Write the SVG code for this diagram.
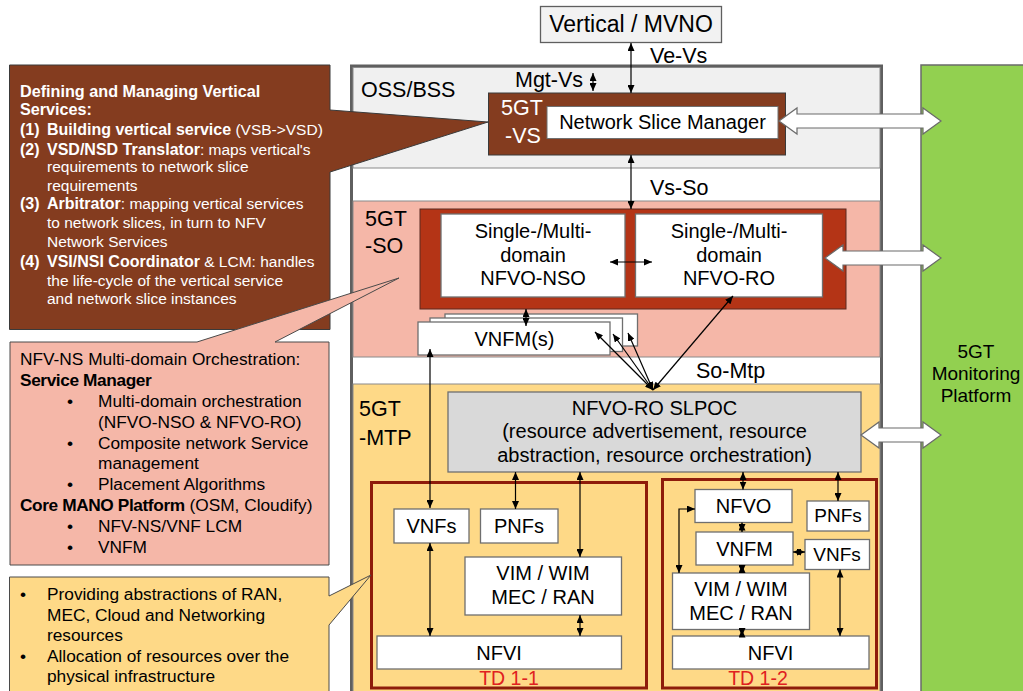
<svg xmlns="http://www.w3.org/2000/svg" width="1023" height="691" viewBox="0 0 1023 691">
<defs>
<marker id="ah" viewBox="0 0 8 7" refX="8" refY="3.5" markerWidth="8" markerHeight="7" markerUnits="userSpaceOnUse" orient="auto-start-reverse"><path d="M0,0 L8,3.5 L0,7 z" fill="#000"/></marker>
<style>
text{font-family:"Liberation Sans",Arial,sans-serif;fill:#000}
.t20{font-size:20px;text-anchor:middle}
.lbl{font-size:21.5px}
.box{fill:#fff;stroke:#6f6f6f;stroke-width:1.3}
.td{fill:none;stroke:#8e1c0b;stroke-width:3}
.tdl{font-size:19.5px;fill:#e02020;text-anchor:middle}
.c{stroke:#000;stroke-width:1.2;fill:none;marker-start:url(#ah);marker-end:url(#ah)}
.ha{fill:#fff;stroke:#6a6a6a;stroke-width:1.2}
.bt{font-size:15.5px;fill:#fff}
.bb{font-weight:bold;font-size:16px}
.pt{font-size:17.3px}
.b{font-weight:bold;letter-spacing:-0.4px}
</style>
</defs>

<!-- containers -->
<g id="frame">
<rect x="351.5" y="66" width="530" height="640" fill="#fff" stroke="#5f5f5f" stroke-width="3"/>
</g>
<g id="oss">
<rect x="353" y="67.5" width="527" height="100.5" fill="#f0f0f0" stroke="#8a8a8a" stroke-width="1"/>
<text class="lbl" x="361" y="97">OSS/BSS</text>
</g>
<g id="so-region">
<rect x="353" y="201" width="527" height="156" fill="#f5b7a8" stroke="#8a8a8a" stroke-width="1"/>
<text class="lbl" x="365" y="226">5GT</text>
<text class="lbl" x="365" y="253">-SO</text>
</g>
<g id="mtp-region">
<rect x="353" y="384" width="527" height="320" fill="#fed987" stroke="#8a8a8a" stroke-width="1"/>
<text class="lbl" x="359" y="416">5GT</text>
<text class="lbl" x="359" y="445">-MTP</text>
</g>
<g id="monitoring">
<rect x="921" y="65" width="110" height="640" fill="#92d050" stroke="#6a6a6a" stroke-width="1.5"/>
<text font-size="19px" text-anchor="middle" x="976" y="358">5GT</text>
<text font-size="19px" text-anchor="middle" x="976" y="380">Monitoring</text>
<text font-size="19px" text-anchor="middle" x="976" y="402">Platform</text>
</g>

<g id="vertical-mvno">
<rect x="540.5" y="6.5" width="181" height="36" fill="#f2f2f2" stroke="#5f5f5f" stroke-width="1.3"/>
<text font-size="23px" text-anchor="middle" x="631" y="32">Vertical / MVNO</text>
</g>

<g id="vs">
<rect x="488.5" y="93" width="297" height="62" fill="#843c1f" stroke="#3a3a3a" stroke-width="1"/>
<text class="lbl" x="501" y="115" style="fill:#fff">5GT</text>
<text class="lbl" x="505" y="143" style="fill:#fff">-VS</text>
</g>
<g id="nsm">
<rect x="547" y="106.5" width="231" height="32" fill="#fff" stroke="#6f6f6f" stroke-width="1"/>
<text class="t20" x="662.5" y="129">Network Slice Manager</text>
</g>

<g id="so">
<rect x="420" y="209" width="426" height="100" fill="#b43416" stroke="#5a2a20" stroke-width="1"/>
</g>
<g id="nfvo-nso">
<rect x="441" y="214" width="184" height="83" class="box"/>
<text class="t20" x="533" y="238">Single-/Multi-</text>
<text class="t20" x="533" y="262">domain</text>
<text class="t20" x="533" y="285">NFVO-NSO</text>
</g>
<g id="nfvo-ro">
<rect x="635.5" y="214" width="187" height="83" class="box"/>
<text class="t20" x="729" y="238">Single-/Multi-</text>
<text class="t20" x="729" y="262">domain</text>
<text class="t20" x="729" y="285">NFVO-RO</text>
</g>
<g id="vnfms">
<rect x="445" y="314" width="192.5" height="32" class="box"/>
<rect x="430" y="318" width="192.5" height="33.5" class="box"/>
<rect x="418" y="322" width="192" height="33" class="box"/>
<text class="t20" x="514.5" y="346">VNFM(s)</text>
</g>

<g id="slpoc">
<rect x="448" y="392" width="413" height="80" fill="#d9d9d9" stroke="#6f6f6f" stroke-width="1.3"/>
<text class="t20" x="654.5" y="415">NFVO-RO SLPOC</text>
<text class="t20" x="654.5" y="438">(resource advertisement, resource</text>
<text class="t20" x="654.5" y="462">abstraction, resource orchestration)</text>
</g>

<g id="td1-1">
<rect x="371.5" y="482.5" width="275" height="205.5" class="td"/>
<text class="tdl" x="509" y="685">TD 1-1</text>
</g>
<g id="td1-1-vnfs"><rect x="394" y="509" width="75" height="34" class="box"/><text class="t20" x="431.5" y="533">VNFs</text></g>
<g id="td1-1-pnfs"><rect x="480.5" y="509" width="77.5" height="34" class="box"/><text class="t20" x="519" y="533">PNFs</text></g>
<g id="td1-1-vim"><rect x="465" y="557" width="156.5" height="58" class="box"/><text class="t20" x="543" y="580">VIM / WIM</text><text class="t20" x="543" y="603.5">MEC / RAN</text></g>
<g id="td1-1-nfvi"><rect x="377" y="636" width="244.5" height="33" class="box"/><text class="t20" x="499" y="660">NFVI</text></g>

<g id="td1-2">
<rect x="662.5" y="479.5" width="214" height="208.5" class="td"/>
<text class="tdl" x="758" y="685">TD 1-2</text>
</g>
<g id="td1-2-nfvo"><rect x="695" y="489.5" width="97" height="33" class="box"/><text class="t20" x="743.5" y="513">NFVO</text></g>
<g id="td1-2-pnfs"><rect x="807" y="501" width="62" height="30" class="box"/><text class="t20" x="838" y="522" style="font-size:19px">PNFs</text></g>
<g id="td1-2-vnfm"><rect x="696" y="532" width="97" height="33" class="box"/><text class="t20" x="744.5" y="555.5">VNFM</text></g>
<g id="td1-2-vnfs"><rect x="805" y="539.5" width="64.5" height="30" class="box"/><text class="t20" x="837" y="561" style="font-size:19px">VNFs</text></g>
<g id="td1-2-vim"><rect x="672.5" y="573" width="137" height="56.5" class="box"/><text class="t20" x="741" y="596">VIM / WIM</text><text class="t20" x="741" y="619.5">MEC / RAN</text></g>
<g id="td1-2-nfvi"><rect x="672.5" y="636" width="196.5" height="33" class="box"/><text class="t20" x="770.5" y="660">NFVI</text></g>

<!-- connectors -->
<g id="connectors">
<line class="c" x1="631" y1="43" x2="631" y2="93"/>
<line class="c" x1="593" y1="73" x2="593" y2="91"/>
<line class="c" x1="631" y1="155" x2="631" y2="209"/>
<line class="c" x1="610" y1="262" x2="652" y2="262"/>
<line class="c" x1="526" y1="309" x2="526" y2="326"/>
<line class="c" x1="653" y1="390" x2="595" y2="332"/>
<line class="c" x1="653" y1="390" x2="613" y2="334"/>
<line class="c" x1="653" y1="390" x2="628" y2="333"/>
<line class="c" x1="653" y1="390" x2="733" y2="296"/>
<line class="c" x1="430" y1="349" x2="430" y2="508"/>
<line class="c" x1="515.5" y1="472" x2="515.5" y2="509"/>
<line class="c" x1="580" y1="472" x2="580" y2="557"/>
<line class="c" x1="430" y1="543" x2="430" y2="636"/>
<line class="c" x1="580" y1="615" x2="580" y2="636"/>
<line class="c" x1="743" y1="472" x2="743" y2="489.5"/>
<line class="c" x1="838" y1="472" x2="838" y2="501"/>
<line class="c" x1="742" y1="522.5" x2="742" y2="532"/>
<line class="c" x1="742" y1="565" x2="742" y2="573"/>
<line class="c" x1="742" y1="629.5" x2="742" y2="636"/>
<line class="c" x1="793" y1="552" x2="805" y2="552"/>
<line class="c" x1="840" y1="569.5" x2="840" y2="636"/>
<polyline class="c" points="695,509 679,509 679,573"/>
<polygon class="ha" points="779,121 797,108 797,114 923,114 923,108 941,121 923,134 923,128 797,128 797,134"/>
<polygon class="ha" points="825,258 843,245 843,251 923,251 923,245 941,258 923,271 923,265 843,265 843,271"/>
<polygon class="ha" points="861,435 879,422 879,428 923,428 923,422 941,435 923,448 923,442 879,442 879,448"/>
<text class="lbl" x="650" y="63">Ve-Vs</text>
<text class="lbl" x="515" y="87">Mgt-Vs</text>
<text class="lbl" x="650" y="195">Vs-So</text>
<text class="lbl" x="696" y="378">So-Mtp</text>
</g>

<!-- callouts -->
<g id="callout-vs">
<path d="M9.5,65 H330 V110 L488,122 L330,172 V329.5 H9.5 Z" fill="#843c1f" stroke="#3a3a3a" stroke-width="1"/>
<text class="bt" x="20" y="97"><tspan class="bb" style="font-size:16.2px">Defining and Managing Vertical</tspan></text>
<text class="bt" x="20" y="115"><tspan class="bb" style="font-size:16.2px">Services:</tspan></text>
<text class="bt" x="20" y="135"><tspan class="bb">(1)</tspan></text>
<text class="bt" x="47" y="135"><tspan class="bb">Building vertical service</tspan> (VSB-&gt;VSD)</text>
<text class="bt" x="20" y="154.5"><tspan class="bb">(2)</tspan></text>
<text class="bt" x="47" y="154.5"><tspan class="bb">VSD/NSD Translator</tspan>: maps vertical's</text>
<text class="bt" x="47" y="172">requirements to network slice</text>
<text class="bt" x="47" y="190.5">requirements</text>
<text class="bt" x="20" y="209"><tspan class="bb">(3)</tspan></text>
<text class="bt" x="47" y="209"><tspan class="bb">Arbitrator</tspan>: mapping vertical services</text>
<text class="bt" x="47" y="228">to network slices, in turn to NFV</text>
<text class="bt" x="47" y="247">Network Services</text>
<text class="bt" x="20" y="266.5"><tspan class="bb">(4)</tspan></text>
<text class="bt" x="47" y="266.5"><tspan class="bb">VSI/NSI Coordinator</tspan> &amp; LCM: handles</text>
<text class="bt" x="47" y="285.5">the life-cycle of the vertical service</text>
<text class="bt" x="47" y="304">and network slice instances</text>
</g>

<g id="callout-so">
<path d="M10,342 H197 L399,278 L275,342 H329 V565 H10 Z" fill="#f5b7a8" stroke="#4a4a4a" stroke-width="1"/>
<text class="pt" x="20" y="365">NFV-NS Multi-domain Orchestration:</text>
<text class="pt" x="20" y="386"><tspan class="b">Service Manager</tspan></text>
<text class="pt" x="67" y="407">•</text><text class="pt" x="98" y="407">Multi-domain orchestration</text>
<text class="pt" x="98" y="428">(NFVO-NSO &amp; NFVO-RO)</text>
<text class="pt" x="67" y="448.5">•</text><text class="pt" x="98" y="448.5">Composite network Service</text>
<text class="pt" x="98" y="469">management</text>
<text class="pt" x="67" y="490">•</text><text class="pt" x="98" y="490">Placement Algorithms</text>
<text class="pt" x="20" y="511"><tspan class="b">Core MANO Platform</tspan> (OSM, Cloudify)</text>
<text class="pt" x="67" y="532">•</text><text class="pt" x="98" y="532">NFV-NS/VNF LCM</text>
<text class="pt" x="67" y="552.5">•</text><text class="pt" x="98" y="552.5">VNFM</text>
</g>

<g id="callout-mtp">
<path d="M9.5,577 H329 V596 L371,575 L329,625 V700 H9.5 Z" fill="#fed987" stroke="#4a4a4a" stroke-width="1"/>
<text class="pt" x="20" y="600">•</text><text class="pt" x="47" y="600">Providing abstractions of RAN,</text>
<text class="pt" x="47" y="620.5">MEC, Cloud and Networking</text>
<text class="pt" x="47" y="641">resources</text>
<text class="pt" x="20" y="661.5">•</text><text class="pt" x="47" y="661.5">Allocation of resources over the</text>
<text class="pt" x="47" y="682">physical infrastructure</text>
</g>
</svg>
